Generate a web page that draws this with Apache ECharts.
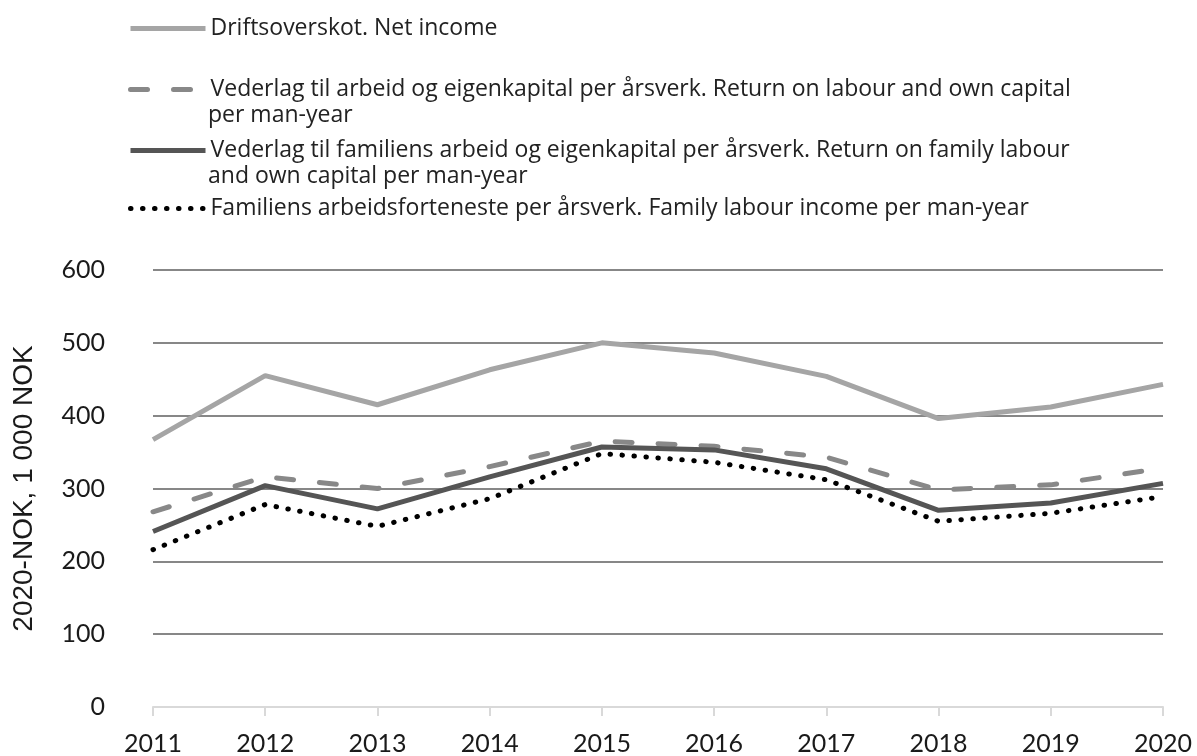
<!DOCTYPE html>
<html>
<head>
<meta charset="utf-8">
<script src="https://cdn.jsdelivr.net/npm/echarts@6/dist/echarts.min.js"></script>
<style>
  html, body { margin: 0; padding: 0; background: #fff; }
  #chart { width: 1197px; height: 756px; }
</style>
</head>
<body>
<div id="chart"></div>
<script>
const years = ['2011', '2012', '2013', '2014', '2015', '2016', '2017', '2018', '2019', '2020'];
const yTicks = [0, 100, 200, 300, 400, 500, 600];

const netIncome = [367, 455, 415, 463, 500, 486, 454, 396, 412, 443];
const returnLabourCapital = [268, 316, 300, 330, 365, 358, 343, 298, 305, 328];
const returnFamilyLabour = [241, 304, 272, 316, 357, 353, 327, 270, 280, 307];
const familyLabourIncome = [216, 278, 248, 286, 348, 336, 312, 255, 266, 289];

const names = [
    'Driftsoverskot. Net income',
    'Vederlag til arbeid og eigenkapital per årsverk. Return on labour and own capital',
    'Vederlag til familiens arbeid og eigenkapital per årsverk. Return on family labour',
    'Familiens arbeidsforteneste per årsverk. Family labour income per man-year'
];
// second lines of the wrapped legend entries
const legendWrap = ['', 'per man-year', 'and own capital per man-year', ''];

const fontLegend = 'Open Sans';
const fontAxis = 'Lato';
const legendCenters = [24, 85, 146, 204];

const chart = echarts.init(document.getElementById('chart'));

chart.setOption({
    animation: false,
    backgroundColor: '#fff',
    grid: { left: 153, right: 34, top: 270, bottom: 49, outerBoundsMode: 'none', containLabel: false },
    legend: names.map((n, i) => ({
        data: [n],
        left: 128,
        top: legendCenters[i] - 7,
        padding: 0,
        itemWidth: 75,
        itemHeight: 14,
        selectedMode: false,
        lineStyle: { width: 5 },
        itemStyle: { color: 'rgba(0,0,0,0)', borderWidth: 0, opacity: 0 },
        textStyle: { fontFamily: fontLegend, fontSize: 23, color: '#222' }
    })),
    graphic: legendWrap.map((t, i) => ({
        type: 'text',
        x: 208,
        y: legendCenters[i] + 30,
        style: { text: t, font: '23px "' + fontLegend + '"', fill: '#222', verticalAlign: 'middle' }
    })).filter(g => g.style.text),
    xAxis: {
        type: 'category',
        data: years,
        boundaryGap: false,
        axisLine: { lineStyle: { color: '#d9d9d9', width: 2 } },
        axisTick: { length: 9, lineStyle: { color: '#d9d9d9', width: 2 } },
        axisLabel: { fontFamily: fontAxis, fontSize: 25, color: '#1a1a1a', margin: 24 },
        splitLine: { show: false }
    },
    yAxis: {
        type: 'value',
        min: yTicks[0],
        max: yTicks[yTicks.length - 1],
        interval: 100,
        name: '2020-NOK, 1 000 NOK',
        nameLocation: 'middle',
        nameRotate: 90,
        nameGap: 115,
        nameTextStyle: { fontFamily: 'Liberation Sans', fontSize: 28, color: '#1a1a1a' },
        axisLine: { show: false },
        axisTick: { show: false },
        axisLabel: { fontFamily: fontAxis, fontSize: 25, color: '#1a1a1a', margin: 48 },
        splitLine: { lineStyle: { color: '#5f5f5f', width: 1.5 } }
    },
    series: [
        { name: names[0], data: netIncome, lineStyle: { color: '#a5a5a5', width: 5 } },
        { name: names[1], data: returnLabourCapital, lineStyle: { color: '#888888', width: 5, type: [17, 26], cap: 'round' } },
        { name: names[2], data: returnFamilyLabour, lineStyle: { color: '#555555', width: 5 } },
        { name: names[3], data: familyLabourIncome, lineStyle: { color: '#000000', width: 5, type: [0.5, 11.5], cap: 'round' } }
    ].map(s => ({
        ...s,
        type: 'line',
        symbol: 'none',
        itemStyle: { color: s.lineStyle.color }
    }))
});
</script>
</body>
</html>
